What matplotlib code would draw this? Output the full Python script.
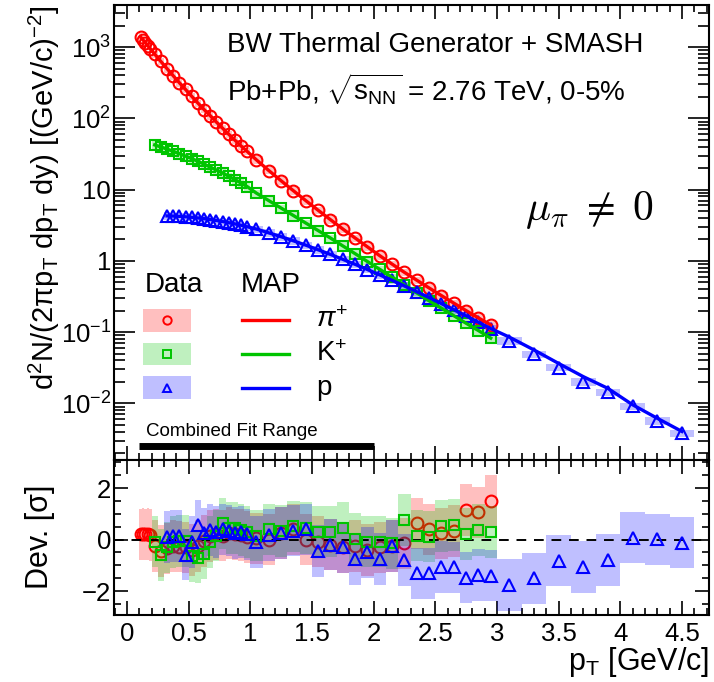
import numpy as np
import matplotlib
matplotlib.use("Agg")
import matplotlib.pyplot as plt
from matplotlib.patches import Rectangle
from matplotlib.ticker import MultipleLocator, FixedLocator, FixedFormatter, LogLocator, NullFormatter

plt.rcParams["font.family"] = ["Liberation Sans", "DejaVu Sans"]
plt.rcParams["mathtext.fontset"] = "custom"
plt.rcParams["mathtext.rm"] = "Liberation Sans"
plt.rcParams["mathtext.it"] = "Liberation Sans:italic"
plt.rcParams["mathtext.bf"] = "Liberation Sans:bold"

# pT bin edges [GeV/c]
pi_edges = [0.10, 0.12, 0.14, 0.16, 0.18, 0.20, 0.25, 0.30, 0.35, 0.40, 0.45, 0.50, 0.55,
            0.60, 0.65, 0.70, 0.75, 0.80, 0.85, 0.90, 0.95, 1.00, 1.10, 1.20, 1.30, 1.40,
            1.50, 1.60, 1.70, 1.80, 1.90, 2.00, 2.10, 2.20, 2.30, 2.40, 2.50, 2.60, 2.70,
            2.80, 2.90, 3.00]
k_edges = [0.20, 0.25, 0.30, 0.35, 0.40, 0.45, 0.50, 0.55, 0.60, 0.65, 0.70, 0.75, 0.80,
           0.85, 0.90, 0.95, 1.00, 1.10, 1.20, 1.30, 1.40, 1.50, 1.60, 1.70, 1.80, 1.90,
           2.00, 2.10, 2.20, 2.30, 2.40, 2.50, 2.60, 2.70, 2.80, 2.90, 3.00]
p_edges = [0.30, 0.35, 0.40, 0.45, 0.50, 0.55, 0.60, 0.65, 0.70, 0.75, 0.80, 0.85, 0.90,
           0.95, 1.00, 1.10, 1.20, 1.30, 1.40, 1.50, 1.60, 1.70, 1.80, 1.90, 2.00, 2.10,
           2.20, 2.30, 2.40, 2.50, 2.60, 2.70, 2.80, 2.90, 3.00, 3.20, 3.40, 3.60, 3.80,
           4.00, 4.20, 4.40, 4.60]

# measured spectra
pi_yield = [1390, 1260, 1150, 1040, 942, 796, 628, 498, 396, 316, 254, 204, 164, 133, 109,
            88.7, 72.8, 59.8, 49.4, 41.0, 34.3, 26.1, 18.5, 13.3, 9.62, 7.00, 5.13, 3.78,
            2.80, 2.09, 1.57, 1.18, 0.899, 0.689, 0.535, 0.416, 0.325, 0.255, 0.200, 0.158,
            0.126]
k_yield = [42.3, 39.6, 37.0, 34.4, 31.9, 29.5, 27.2, 24.9, 22.8, 20.7, 18.8, 17.1, 15.4,
           13.8, 12.4, 11.0, 8.91, 7.00, 5.50, 4.32, 3.39, 2.66, 2.09, 1.62, 1.26, 0.977,
           0.759, 0.589, 0.457, 0.355, 0.275, 0.216, 0.170, 0.133, 0.105, 0.0822]
p_yield = [4.27, 4.25, 4.21, 4.15, 4.08, 4.00, 3.91, 3.80, 3.68, 3.56, 3.43, 3.30, 3.16,
           3.01, 2.79, 2.47, 2.18, 1.91, 1.66, 1.43, 1.23, 1.05, 0.893, 0.755, 0.635, 0.532,
           0.444, 0.368, 0.305, 0.251, 0.206, 0.169, 0.137, 0.112, 0.0760, 0.0490, 0.0318,
           0.0202, 0.0142, 0.00902, 0.00569, 0.00382]

# MAP model curves at the bin centres
pi_model = list(pi_yield)
k_model = list(k_yield)
p_model = p_yield[:34] + [0.0851, 0.0562, 0.0363, 0.0237, 0.0162, 0.00955, 0.00617, 0.00403]

# deviation (data - model) in units of sigma
pi_dev = [0.20, 0.22, 0.20, 0.22, 0.18, -0.25, -0.45, -0.34, -0.25, -0.27, -0.30, -0.40,
          -0.25, -0.05, 0.13, 0.20, 0.15, 0.25, 0.20, 0.18, 0.10, 0.05, 0.00, 0.26, 0.40,
          0.00, -0.08, -0.20, -0.30, -0.25, -0.40, -0.30, -0.25, -0.15, 0.63, 0.40, 0.24,
          0.34, 1.15, 1.06, 1.50]
k_dev = [-0.08, -0.60, -0.30, -0.10, -0.05, -0.05, -0.65, -0.70, -0.55, -0.10, 0.15, 0.63,
         0.45, 0.45, 0.37, 0.30, 0.15, 0.40, 0.34, 0.51, 0.45, 0.31, 0.31, 0.45, 0.04, -0.08,
         -0.08, -0.15, 0.76, 0.15, 0.11, 0.52, 0.56, 0.21, 0.37, 0.30]
p_dev = [0.10, 0.13, 0.13, -0.58, -0.10, 0.55, 0.24, 0.38, 0.30, 0.40, 0.35, 0.25, 0.30,
         0.20, -0.10, 0.17, 0.25, 0.35, 0.40, -0.45, -0.20, -0.30, -0.75, -0.50, -0.75, -0.25,
         -0.80, -1.31, -1.31, -1.06, -1.08, -1.48, -1.38, -1.40, -1.77, -1.51, -0.82, -1.06,
         -0.80, 0.08, 0.01, -0.12]

sys_frac = 0.12
fit_range = [0.10, 2.00]

species = [
    ("$\\pi^{+}$", pi_edges, pi_yield, pi_model, pi_dev, "#ff0000", "o", 8.5),
    ("K$^{+}$", k_edges, k_yield, k_model, k_dev, "#00c400", "s", 7.5),
    ("p", p_edges, p_yield, p_model, p_dev, "#0000ff", "^", 8.5),
]

fig = plt.figure(figsize=(7.14, 6.82), dpi=100)
ax = fig.add_axes([0.1597, 0.3255, 0.8333, 0.6672])
axr = fig.add_axes([0.1597, 0.0982, 0.8333, 0.2273])

for name, edges, y, model, dev, col, mk, ms in species:
    e = np.array(edges)
    pt = 0.5 * (e[:-1] + e[1:])
    w = np.diff(e)
    y = np.array(y)
    ax.bar(pt, 2 * sys_frac * y, width=w, bottom=y * (1 - sys_frac), color=col,
           alpha=0.25, lw=0, zorder=1)
    ax.plot(pt, y, mk, mfc="none", mec=col, ms=ms, mew=1.5, zorder=3)
    ax.plot(pt, model, "-", color=col, lw=2.4, zorder=4)

# deviation panel: +-1 sigma bands
for i, (name, edges, y, model, dev, col, mk, ms) in enumerate(species):
    e = np.array(edges)
    pt = 0.5 * (e[:-1] + e[1:])
    w = np.diff(e)
    dev = np.array(dev)
    axr.bar(pt, 2.0, width=w, bottom=dev - 1.0, color=col, alpha=0.25, lw=0, zorder=1 + i)
    axr.plot(pt, dev, mk, mfc="none", mec=col, ms=ms, mew=1.5, zorder=1 + i if i == 0 else 6)
axr.axhline(0, color="k", ls=(0, (5, 4)), lw=1.4, zorder=5)

# legend
tr = ax.transAxes
ax.text(0.052, 0.385, "Data", transform=tr, fontsize=20, va="center", ha="left")
ax.text(0.2134, 0.385, "MAP", transform=tr, fontsize=20, va="center", ha="left")
rows = [0.3066, 0.233, 0.1593]
for (name, edges, y, model, dev, col, mk, ms), ry in zip(species, rows):
    ax.add_patch(Rectangle((0.0482, ry - 0.0253), 0.0807, 0.0505, transform=tr,
                           facecolor=col, alpha=0.25, lw=0))
    ax.plot([0.0885], [ry], mk, mfc="none", mec=col, ms=6, mew=1.4, transform=tr)
    ax.plot([0.2146, 0.2946], [ry, ry], color=col, lw=2.4, transform=tr)
    ax.text(0.339, ry, name, transform=tr, fontsize=20, va="center", ha="left")

# fit range marker
ax.plot(fit_range, [2.55e-3, 2.55e-3], color="k", lw=5, solid_capstyle="butt")
ax.text(0.153, 4.0e-3, "Combined Fit Range", fontsize=13.5, va="center", ha="left")

ax.text(0.19, 0.912, "BW Thermal Generator + SMASH", transform=tr, fontsize=20,
        va="center", ha="left")
ax.text(0.19, 0.815, "Pb+Pb, $\\sqrt{\\mathrm{s}_{\\mathrm{NN}}}$ = 2.76 TeV, 0-5%",
        transform=tr, fontsize=20, va="center", ha="left")
ax.text(0.69, 0.55, r"$\mu_{\pi}\;\neq\;0$", transform=tr, fontsize=30,
        math_fontfamily="cm", va="center", ha="left")

# axes
ax.set_yscale("log")
ax.set_xlim(-0.105, 4.72)
axr.set_xlim(-0.105, 4.72)
ax.set_ylim(1.6e-3, 3.9e3)
axr.set_ylim(-2.93, 3.09)

ax.yaxis.set_major_locator(FixedLocator([1e-2, 1e-1, 1, 10, 1e2, 1e3]))
ax.yaxis.set_major_formatter(FixedFormatter(["$10^{-2}$", "$10^{-1}$", "1", "10",
                                             "$10^{2}$", "$10^{3}$"]))
ax.yaxis.set_minor_locator(LogLocator(base=10, subs=np.arange(2, 10), numticks=30))
ax.yaxis.set_minor_formatter(NullFormatter())

for a in (ax, axr):
    a.xaxis.set_major_locator(MultipleLocator(0.5))
    a.xaxis.set_minor_locator(MultipleLocator(0.1))
    a.tick_params(which="both", direction="in", top=True, right=True, width=1.2,
                  labelsize=18.5)
    a.tick_params(axis="x", which="major", length=10, pad=5)
    a.tick_params(axis="x", which="minor", length=5)
    a.tick_params(axis="y", pad=2)
    for s in a.spines.values():
        s.set_linewidth(1.5)
ax.tick_params(axis="y", which="major", length=15)
ax.tick_params(axis="y", which="minor", length=8)
ax.tick_params(axis="x", labelbottom=False)

axr.set_yticks([-2, 0, 2])
axr.set_yticklabels(["\u22122", "0", "2"])
axr.yaxis.set_minor_locator(MultipleLocator(0.5))
axr.tick_params(axis="y", which="major", length=10)
axr.tick_params(axis="y", which="minor", length=5)
axr.set_xticks([0, 0.5, 1, 1.5, 2, 2.5, 3, 3.5, 4, 4.5])
axr.set_xticklabels(["0", "0.5", "1", "1.5", "2", "2.5", "3", "3.5", "4", "4.5"])

fig.text(0.0616, 0.993,
         "d$^{2}$N/(2πp$_{\\mathrm{T}}$ dp$_{\\mathrm{T}}$ dy) [(GeV/c)$^{-2}$]",
         rotation=90, ha="center", va="top", fontsize=21)
fig.text(0.056, 0.2126, "Dev. [σ]", rotation=90, ha="center", va="center", fontsize=22)
fig.text(0.993, 0.005, "p$_{\\mathrm{T}}$ [GeV/c]", ha="right", va="bottom", fontsize=22)

fig.savefig("out.png", dpi=100)
